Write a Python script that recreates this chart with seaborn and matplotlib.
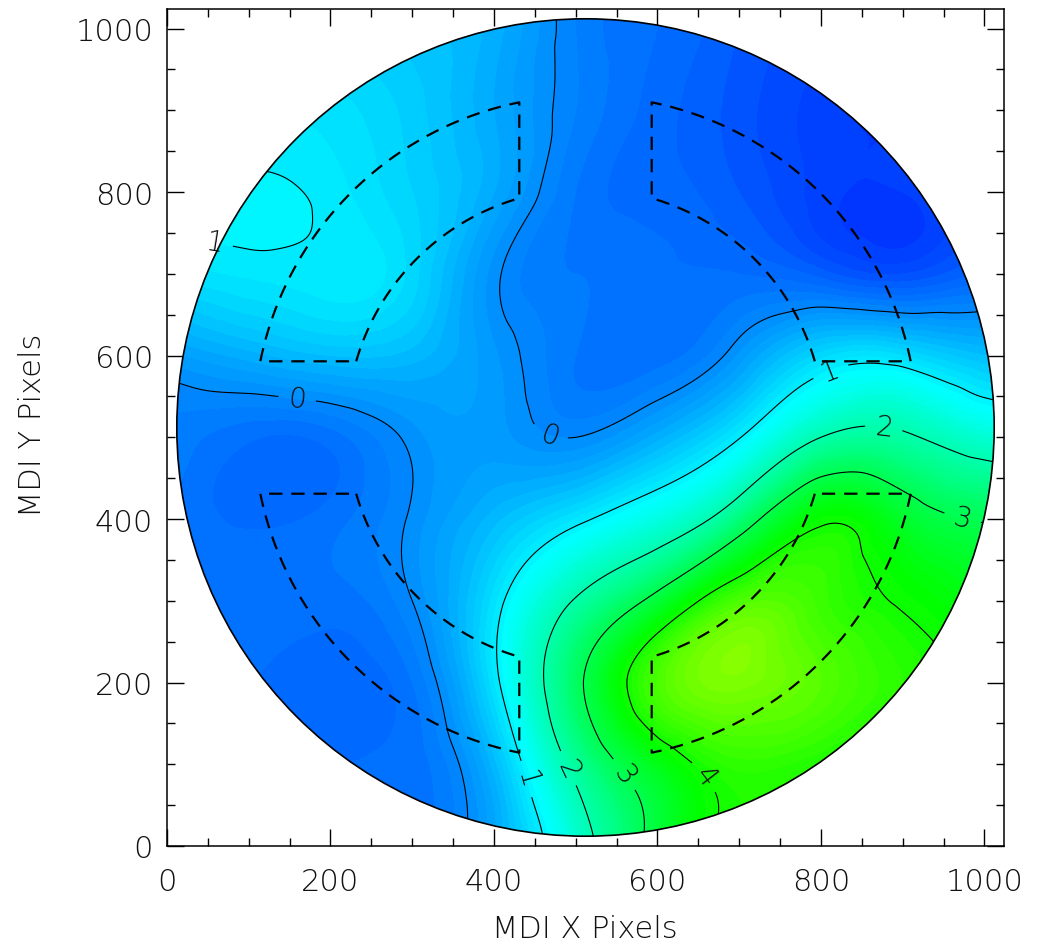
import numpy as np
import matplotlib
matplotlib.use("Agg")
import matplotlib.pyplot as plt
import matplotlib.tri as mtri
from matplotlib.colors import LinearSegmentedColormap
from matplotlib.patches import Circle
from matplotlib.ticker import MultipleLocator
import seaborn as sns

# ---------------------------------------------------------------------------
# Field samples on a coarse grid of MDI pixel positions (one list per row)
# ---------------------------------------------------------------------------
grid_x = [0, 100, 200, 300, 400, 500, 600, 700, 800, 900, 1000, 1100]
grid_y = [0, 100, 200, 300, 400, 500, 600, 700, 800, 900, 1000, 1100]

row_y0000 = [-0.30, -0.30, -0.30, -0.25, 0.30, 1.60, 3.30, 4.20, 4.15, 4.00, 3.80, 3.60]
row_y0100 = [-0.30, -0.30, -0.30, -0.25, 0.45, 2.20, 3.60, 4.25, 4.10, 4.00, 3.80, 3.60]
row_y0200 = [-0.30, -0.30, -0.35, -0.20, 0.88, 2.80, 4.50, 4.95, 4.60, 4.20, 4.00, 3.80]
row_y0300 = [-0.25, -0.25, -0.25, 0.00, 0.85, 2.05, 3.25, 4.50, 4.35, 3.95, 3.60, 3.40]
row_y0400 = [-0.20, -0.32, -0.25, 0.03, 0.45, 0.90, 1.45, 2.55, 3.90, 3.40, 2.95, 2.70]
row_y0500 = [-0.12, -0.28, -0.25, 0.05, 0.15, 0.00, 0.35, 0.98, 2.00, 2.10, 1.60, 1.40]
row_y0600 = [0.15, 0.35, 0.50, 0.45, 0.12, -0.20, -0.25, 0.12, 0.75, 0.80, 0.50, 0.40]
row_y0700 = [0.85, 0.92, 0.97, 0.75, 0.05, -0.20, -0.28, -0.30, -0.45, -0.60, -0.35, -0.30]
row_y0800 = [1.02, 1.03, 0.95, 0.70, 0.30, -0.20, -0.35, -0.50, -0.75, -0.80, -0.60, -0.50]
row_y0900 = [0.95, 0.92, 0.85, 0.65, 0.30, -0.10, -0.35, -0.55, -0.75, -0.80, -0.70, -0.60]
row_y1000 = [0.90, 0.85, 0.72, 0.55, 0.35, -0.10, -0.30, -0.50, -0.65, -0.70, -0.65, -0.60]
row_y1100 = [0.85, 0.80, 0.65, 0.50, 0.30, -0.10, -0.30, -0.45, -0.60, -0.65, -0.60, -0.55]

field_rows = [row_y0000, row_y0100, row_y0200, row_y0300, row_y0400, row_y0500,
              row_y0600, row_y0700, row_y0800, row_y0900, row_y1000, row_y1100]

# solar disk and the eight annular measurement sectors
disk_center = (512.0, 512.0)
disk_radius = 500.0
sector_offset = 81.0
sector_r_inner = 292.0
sector_r_outer = 406.0

# contour levels and where their labels sit
line_levels = [0, 1, 2, 3, 4]
label_positions = [(161, 565), (466, 498), (811, 583), (440, 82), (65, 779),
                   (878, 520), (495, 97), (970, 388), (560, 88), (670, 94)]

x_ticks = [0, 200, 400, 600, 800, 1000]
y_ticks = [0, 200, 400, 600, 800, 1000]

# colour ramp: blue -> cyan -> green -> yellow-green
ramp_values = [-1.0, 1.15, 3.85, 5.1]
ramp_colors = [(0.0, 40 / 255, 1.0), (0.0, 1.0, 1.0), (0.0, 1.0, 0.0), (140 / 255, 1.0, 0.0)]

# ---------------------------------------------------------------------------
sns.set_style("ticks")
plt.rcParams["font.family"] = ["DejaVu Sans"]
plt.rcParams["text.color"] = "#111111"
plt.rcParams["xtick.color"] = "black"
plt.rcParams["ytick.color"] = "black"
plt.rcParams["xtick.labelcolor"] = "#111111"
plt.rcParams["ytick.labelcolor"] = "#111111"
plt.rcParams["axes.labelcolor"] = "#111111"

TEXT_WEIGHT = "light"

vmin, vmax = ramp_values[0], ramp_values[-1]
cmap = LinearSegmentedColormap.from_list(
    "disk_ramp",
    [((v - vmin) / (vmax - vmin), c) for v, c in zip(ramp_values, ramp_colors)],
)

# smooth surface through the coarse samples
gx, gy = np.meshgrid(np.asarray(grid_x, float), np.asarray(grid_y, float))
gz = np.asarray(field_rows, float)
nx, ny = len(grid_x), len(grid_y)
tris = []
for j in range(ny - 1):
    for i in range(nx - 1):
        a = j * nx + i
        b = a + 1
        c = a + nx
        d = c + 1
        tris.append([a, b, d])
        tris.append([a, d, c])
tri = mtri.Triangulation(gx.ravel(), gy.ravel(), triangles=np.array(tris))
interp = mtri.CubicTriInterpolator(tri, gz.ravel(), kind="min_E")

xf = np.linspace(0, 1024, 513)
yf = np.linspace(0, 1024, 513)
XF, YF = np.meshgrid(xf, yf)
ZF = interp(XF, YF)

fig = plt.figure(figsize=(10.38, 9.45), dpi=100)
ax = fig.add_axes([167 / 1038, 1 - 847 / 945, 837 / 1038, 837 / 945])
ax.set_facecolor("white")

disk_clip = Circle(disk_center, disk_radius, transform=ax.transData)

fill_levels = np.arange(-1.0, 5.15, 0.1)
cf = ax.contourf(XF, YF, ZF, levels=fill_levels, cmap=cmap, vmin=vmin, vmax=vmax,
                 extend="both", antialiased=False)
cf.set_clip_path(disk_clip)

cl = ax.contour(XF, YF, ZF, levels=line_levels, colors="black", linewidths=0.8)
cl.set_clip_path(disk_clip)
labels = ax.clabel(cl, line_levels, fmt="%d", fontsize=20, inline=True,
                   inline_spacing=10, manual=label_positions)
for t in labels:
    t.set_fontweight(TEXT_WEIGHT)
    t.set_color("#111111")

ax.add_patch(Circle(disk_center, disk_radius, fill=False, ec="black", lw=1.2, zorder=4))

# dashed annular sectors, one per quadrant
cx, cy = disk_center
a_in0 = np.arctan2(sector_offset, np.sqrt(sector_r_inner ** 2 - sector_offset ** 2))
a_in1 = np.pi / 2 - a_in0
a_out0 = np.arctan2(sector_offset, np.sqrt(sector_r_outer ** 2 - sector_offset ** 2))
a_out1 = np.pi / 2 - a_out0
t_in = np.linspace(a_in0, a_in1, 80)
t_out = np.linspace(a_out1, a_out0, 80)
sx_path = np.concatenate([sector_r_inner * np.cos(t_in), sector_r_outer * np.cos(t_out),
                          [sector_r_inner * np.cos(a_in0)]])
sy_path = np.concatenate([sector_r_inner * np.sin(t_in), sector_r_outer * np.sin(t_out),
                          [sector_r_inner * np.sin(a_in0)]])
for sx in (-1, 1):
    for sy in (-1, 1):
        ax.plot(cx + sx * sx_path, cy + sy * sy_path, color="black", lw=1.6,
                ls=(0, (6, 4)), zorder=5)

ax.set_xlim(0, 1024)
ax.set_ylim(0, 1024)
ax.set_xticks(x_ticks)
ax.set_yticks(y_ticks)
ax.xaxis.set_minor_locator(MultipleLocator(50))
ax.yaxis.set_minor_locator(MultipleLocator(50))
ax.tick_params(which="both", direction="in", top=True, right=True, width=1.0,
               color="black")
ax.tick_params(which="major", length=12, labelsize=22)
ax.tick_params(which="minor", length=6)
ax.tick_params(axis="x", which="major", pad=15)
ax.tick_params(axis="y", which="major", pad=10)
for lab in ax.get_xticklabels() + ax.get_yticklabels():
    lab.set_fontweight(TEXT_WEIGHT)
for sp in ax.spines.values():
    sp.set_linewidth(1.1)
    sp.set_color("black")

ax.set_xlabel("MDI X Pixels", fontsize=22, fontweight=TEXT_WEIGHT)
ax.set_ylabel("MDI Y Pixels", fontsize=22, fontweight=TEXT_WEIGHT)
ax.xaxis.set_label_coords(0.4994, -0.081)
ax.yaxis.set_label_coords(-0.143, 0.504)

fig.savefig("out.png", dpi=100, facecolor="white")
